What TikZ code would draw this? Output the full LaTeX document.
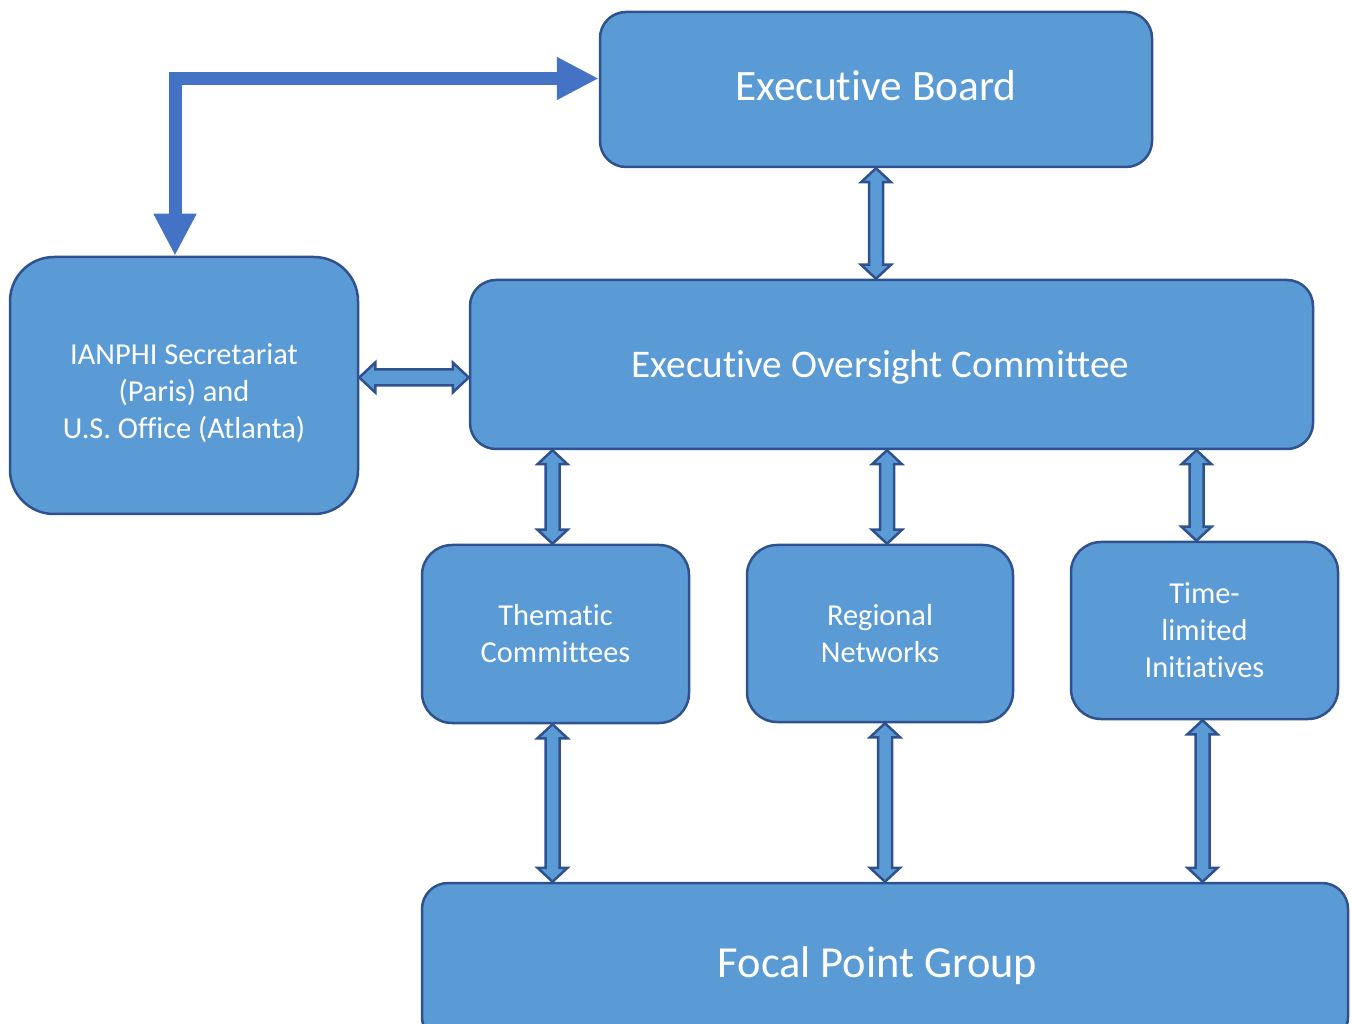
\documentclass[tikz,border=0pt]{standalone}
\usepackage{fontspec}
\setmainfont{Carlito}[Ligatures=NoCommon]
\usetikzlibrary{arrows.meta, calc}

\definecolor{boxblue}{HTML}{5B9BD5}
\definecolor{edgeblue}{HTML}{2F528F}
\definecolor{linkblue}{HTML}{4472C4}

\newcommand{\bigtext}{\fontsize{21.7}{26}\selectfont}
\newcommand{\smalltext}{\fontsize{15.2}{18.5}\selectfont}

% two-headed block arrow, top point to bottom point
\newcommand{\vlink}[2]{%
  \path[linkshape] let \p1=(#1), \p2=(#2) in
    (\x1,\y1) -- (\x1+7.5pt,\y1-7pt) -- (\x1+3.5pt,\y1-7pt)
    -- (\x1+3.5pt,\y2+7pt) -- (\x1+7.5pt,\y2+7pt) -- (\x1,\y2)
    -- (\x1-7.5pt,\y2+7pt) -- (\x1-3.5pt,\y2+7pt)
    -- (\x1-3.5pt,\y1-7pt) -- (\x1-7.5pt,\y1-7pt) -- cycle;}
% same thing lying down, left point to right point
\newcommand{\hlink}[2]{%
  \path[linkshape] let \p1=(#1), \p2=(#2) in
    (\x1,\y1) -- (\x1+8pt,\y1+7.5pt) -- (\x1+8pt,\y1+4pt)
    -- (\x2-8pt,\y1+4pt) -- (\x2-8pt,\y1+7.5pt) -- (\x2,\y1)
    -- (\x2-8pt,\y1-7.5pt) -- (\x2-8pt,\y1-4pt)
    -- (\x1+8pt,\y1-4pt) -- (\x1+8pt,\y1-7.5pt) -- cycle;}

\begin{document}
\begin{tikzpicture}[x=0.5pt, y=0.5pt,
    box/.style={draw=edgeblue, line width=1.25pt, fill=boxblue, text=white,
      rounded corners=13pt, align=center, inner sep=0pt},
    linkshape/.style={draw=edgeblue, line width=1.25pt, fill=boxblue, line join=miter},
    feed/.style={draw=linkblue, line width=6.5pt,
      {Triangle[width=20pt, length=21pt]}-{Triangle[width=20pt, length=21pt]}}]
  \useasboundingbox (0,0) rectangle (1352,1023);

  \node[box, minimum width=276pt, minimum height=77.5pt, font=\bigtext,
    text height=11.5pt, text depth=0pt] (board) at (876, 933.5) {Executive Board};
  \node[box, rounded corners=22pt, minimum width=174pt, minimum height=128.5pt, font=\smalltext,
    text height=53.3pt, text depth=0pt] (sec) at (184, 637.5)
    {IANPHI Secretariat\\(Paris) and\\U.S. Office (Atlanta)};
  \node[box, minimum width=421.5pt, minimum height=84.5pt, font=\fontsize{19.6}{24}\selectfont,
    text height=13.1pt, text depth=0pt] (eoc) at (891.5, 658.5) {Executive Oversight Committee\hspace*{11pt}};

  \node[box, rounded corners=15pt, minimum width=133.5pt, minimum height=89pt, font=\smalltext] (them) at (555.5, 389) {Thematic\\Committees};
  \node[box, rounded corners=15pt, minimum width=133pt, minimum height=88.5pt, font=\smalltext] (reg) at (880, 389.5) {Regional\\Networks};
  \node[box, rounded corners=15pt, minimum width=133.5pt, minimum height=88.5pt, font=\smalltext] (time) at (1204.5, 392.5) {Time-\\limited\\Initiatives};

  \node[box, minimum width=463pt, minimum height=80pt, font=\fontsize{22.2}{26}\selectfont,
    text height=14.3pt, text depth=0pt] (focal) at (885, 60) {Focal Point Group\hspace*{7.5pt}};

  % ports where the links leave the boxes
  \coordinate (secport) at ([yshift=4pt]sec.east);
  \coordinate (themtop) at ([xshift=-1.5pt]them.north);
  \coordinate (regtop)  at ([xshift=3.5pt]reg.north);
  \coordinate (timetop) at ([xshift=-4pt]time.north);
  \coordinate (themlow) at ([xshift=-1.5pt]them.south);
  \coordinate (reglow)  at ([xshift=2.5pt]reg.south);
  \coordinate (timelow) at ([xshift=-1pt]time.south);

  % reporting lines
  \draw[feed] ([yshift=5.5pt]board.west) -| ([xshift=-4.5pt]sec.north);

  \vlink{board.south}{eoc.north -| board.south}
  \hlink{secport}{eoc.west |- secport}

  \vlink{eoc.south -| themtop}{themtop}
  \vlink{eoc.south -| regtop}{regtop}
  \vlink{eoc.south -| timetop}{timetop}

  \vlink{themlow}{focal.north -| themlow}
  \vlink{reglow}{focal.north -| reglow}
  \vlink{timelow}{focal.north -| timelow}
\end{tikzpicture}
\end{document}
